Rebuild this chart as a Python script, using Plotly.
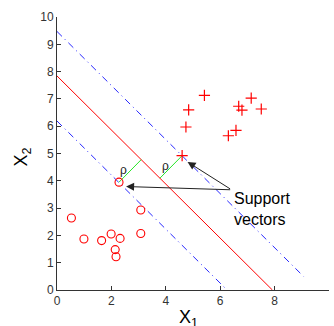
import plotly.graph_objects as go
import numpy as np

# class -1 (circles)
neg_x = [0.53, 0.99, 1.64, 1.99, 2.32, 2.14, 2.17, 3.08, 3.08, 2.28]
neg_y = [2.64, 1.87, 1.81, 2.05, 1.89, 1.48, 1.22, 2.93, 2.07, 3.95]
# class +1 (plus)
pos_x = [5.42, 4.84, 4.74, 7.14, 6.68, 6.80, 7.51, 6.58, 6.30, 4.60]
pos_y = [7.13, 6.60, 5.97, 7.03, 6.73, 6.59, 6.63, 5.85, 5.65, 4.92]

# separating line and margins: y = b + m*x
slope = -0.99
b_mid, b_up, b_low = 7.84, 9.47, 6.19
mid_x = [0.0, 7.92]
up_x = [0.0, 9.06]
low_x = [0.0, 6.25]

# support vectors
sv_neg = (2.28, 3.95)
sv_pos = (4.60, 4.92)

rho_x = [2.46, 4.00]
rho_y = [4.38, 4.56]

arrow_tail = (6.42, 3.67)
arrow_heads_x = [4.80, 2.54]
arrow_heads_y = [4.69, 3.79]

text_pos = (6.42, 2.96)


def proj(p):
    # foot of perpendicular from p onto y = b_mid + slope*x
    x0, y0 = p
    n = np.array([-slope, 1.0])
    d = (n @ np.array([x0, y0]) - b_mid) / (n @ n)
    return (x0 - d * n[0], y0 - d * n[1])


fig = go.Figure()
line_style_blue = dict(color="rgb(40,40,255)", width=1, dash="7px,4px,1px,4px")
fig.add_trace(go.Scatter(x=up_x, y=[b_up + slope * v for v in up_x], mode="lines",
                         line=line_style_blue))
fig.add_trace(go.Scatter(x=low_x, y=[b_low + slope * v for v in low_x], mode="lines",
                         line=line_style_blue))
fig.add_trace(go.Scatter(x=mid_x, y=[b_mid + slope * v for v in mid_x], mode="lines",
                         line=dict(color="red", width=1)))
for sv in (sv_neg, sv_pos):
    f = proj(sv)
    fig.add_trace(go.Scatter(x=[sv[0], f[0]], y=[sv[1], f[1]], mode="lines",
                             line=dict(color="rgb(40,230,40)", width=1)))

fig.add_trace(go.Scatter(x=neg_x, y=neg_y, mode="markers",
                         marker=dict(symbol="circle-open", size=8, color="red",
                                     line=dict(width=1.1, color="red"))))
fig.add_trace(go.Scatter(x=pos_x, y=pos_y, mode="markers",
                         marker=dict(symbol="cross-thin-open", size=8, color="red",
                                     line=dict(width=1.2, color="red"))))

annotations = []
for rx, ry in zip(rho_x, rho_y):
    annotations.append(dict(x=rx, y=ry, xref="x", yref="y", text="ρ", showarrow=False,
                            font=dict(family="Liberation Sans, Arial", size=12, color="#222")))
for hx, hy in zip(arrow_heads_x, arrow_heads_y):
    annotations.append(dict(x=hx, y=hy, xref="x", yref="y", ax=arrow_tail[0], ay=arrow_tail[1],
                            axref="x", ayref="y", text="", showarrow=True, arrowhead=2,
                            arrowsize=1.6, arrowwidth=1, arrowcolor="#222"))
annotations.append(dict(x=text_pos[0], y=text_pos[1], xref="x", yref="y",
                        text="Support<br>vectors", showarrow=False, xanchor="left",
                        yanchor="middle", align="left",
                        font=dict(family="Liberation Sans, Arial", size=16, color="black")))
annotations.append(dict(x=0.485, y=-0.055, xref="paper", yref="paper", text="X<sub>1</sub>",
                        showarrow=False, xanchor="center", yanchor="top",
                        font=dict(family="Liberation Sans, Arial", size=18, color="black")))
annotations.append(dict(x=-0.125, y=0.485, xref="paper", yref="paper", text="X<sub>2</sub>",
                        showarrow=False, textangle=-90, xanchor="center", yanchor="middle",
                        font=dict(family="Liberation Sans, Arial", size=18, color="black")))

axis_common = dict(range=[0, 10], dtick=1, showgrid=False, zeroline=False, showline=True,
                   linecolor="#333", linewidth=1, ticks="inside", ticklen=4, tickcolor="#333",
                   tickfont=dict(family="Liberation Sans, Arial", size=12, color="#333"),
                   mirror=False)
fig.update_layout(
    width=334, height=326,
    margin=dict(l=57, r=5, t=17, b=36),
    plot_bgcolor="white", paper_bgcolor="white",
    showlegend=False,
    xaxis=dict(axis_common, dtick=2),
    yaxis=axis_common,
    annotations=annotations,
)
fig.write_html("out.html")
